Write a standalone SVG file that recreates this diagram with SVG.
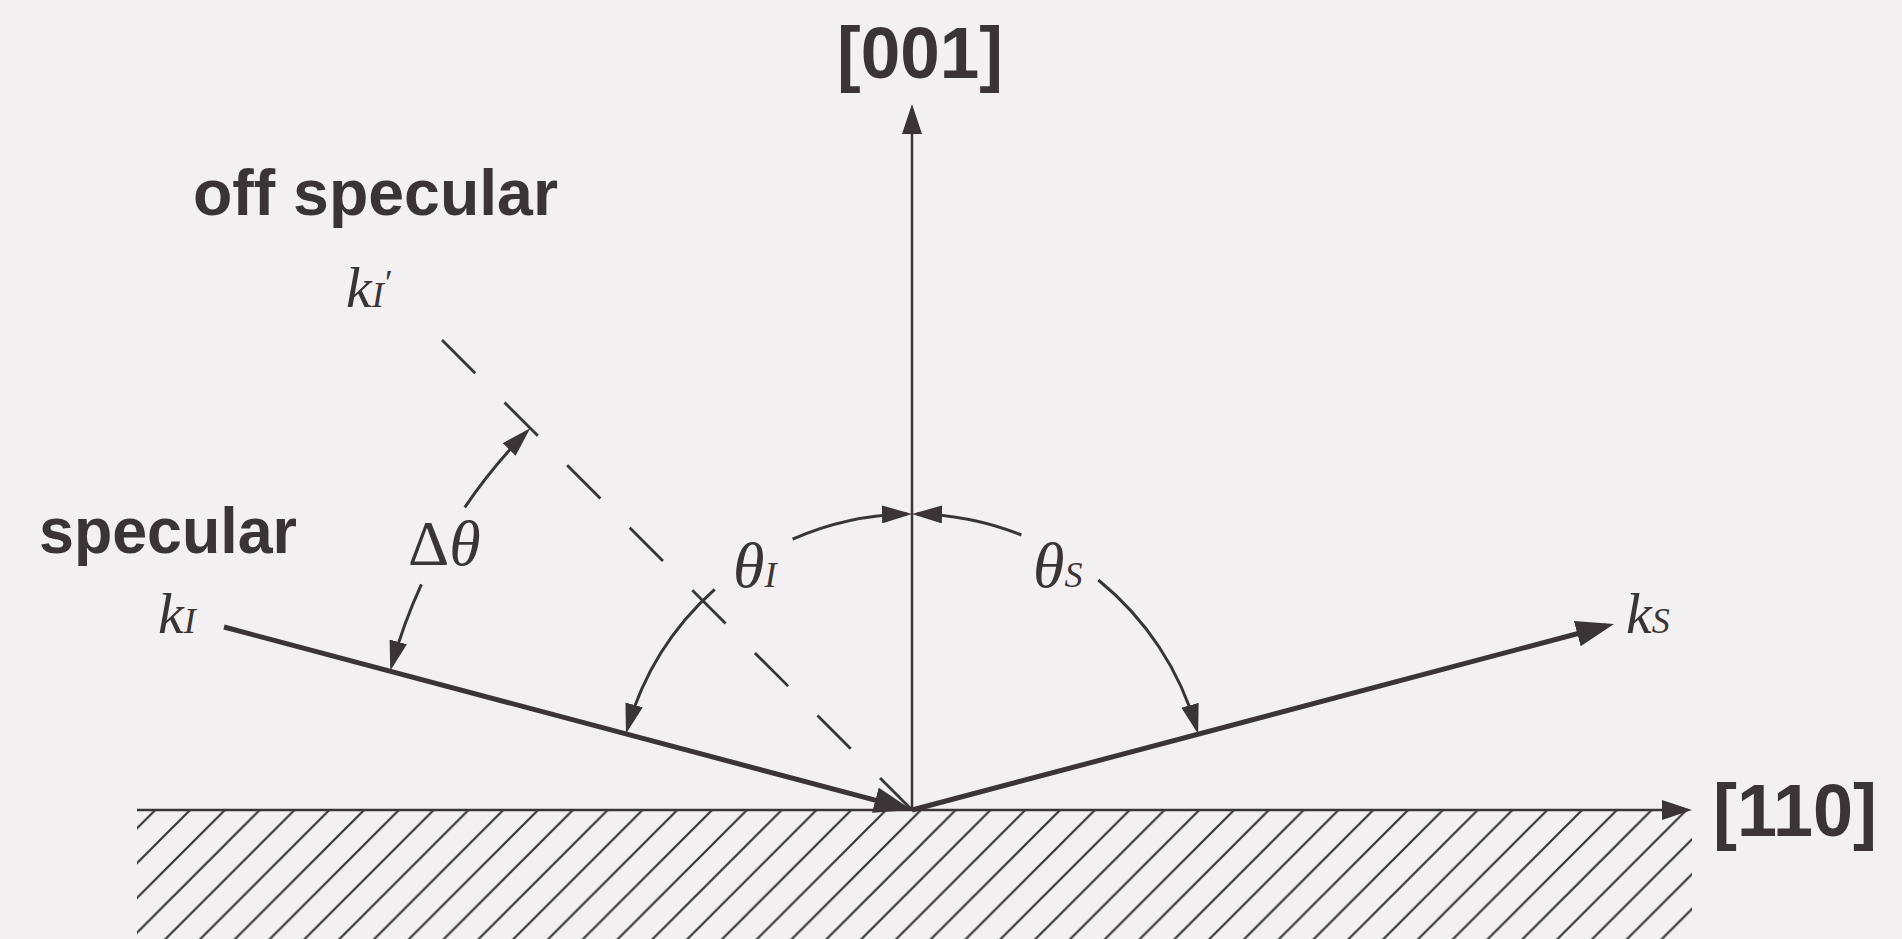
<svg xmlns="http://www.w3.org/2000/svg" width="1902" height="939" viewBox="0 0 1902 939">
<defs>
<style>
.ink{stroke:#3b3436;fill:none}
.axis{stroke-width:2.5}
.vec{stroke-width:5}
.arc{stroke-width:3}
.dash{stroke-width:2.8;stroke-dasharray:47 41.5}
.sans{font-family:"Liberation Sans",Arial,sans-serif;font-weight:bold;fill:#3b3436}
.ital{font-family:"Liberation Serif","Times New Roman",serif;font-style:italic;fill:#3b3436}
.up{font-style:normal}
.sub{font-size:36px}
.head{fill:#3b3436}
</style>
<marker id="aS" markerUnits="userSpaceOnUse" viewBox="0 0 30 18" refX="25" refY="9" markerWidth="30" markerHeight="18" orient="auto"><path class="head" d="M0,0 L30,9 L0,18 z"/></marker>
<marker id="aAx" markerUnits="userSpaceOnUse" viewBox="0 0 30 20" refX="25" refY="10" markerWidth="30" markerHeight="20" orient="auto"><path class="head" d="M0,0 L30,10 L0,20 z"/></marker>
<marker id="aK" markerUnits="userSpaceOnUse" viewBox="0 0 38 26" refX="30" refY="13" markerWidth="38" markerHeight="26" orient="auto"><path class="head" d="M0,0 L38,13 L0,26 z"/></marker>
<pattern id="hatch" patternUnits="userSpaceOnUse" x="0" y="25.7" width="34.8" height="34.8"><path d="M0,34.8 L34.8,0 M-4,4 L4,-4 M30.8,38.8 L38.8,30.8" stroke="#3b3436" stroke-width="2.2"/></pattern>
</defs>
<rect width="1902" height="939" fill="#f2f0f0"/>
<g id="surface">
<rect x="137" y="810" width="1555" height="129" fill="url(#hatch)"/>
</g>
<g id="connectors">
<path id="axis-110" class="ink axis" d="M137,810 L1687,810" marker-end="url(#aAx)"/>
<path id="axis-001" class="ink axis" d="M912,810 L912,109" marker-end="url(#aAx)"/>
<path id="k-offspec" class="ink dash" d="M442,340 L912,810"/>
<path id="k-incident" class="ink vec" d="M224,627 L904.3,807.9" marker-end="url(#aK)"/>
<path id="k-scattered" class="ink vec" d="M912,810 L1606.3,626" marker-end="url(#aK)"/>
<path id="arc-thetaI-low" class="ink arc" d="M714.7,589.3 A296,296 0 0 0 627.3,728.9" marker-end="url(#aS)"/>
<path id="arc-thetaI-up" class="ink arc" d="M792.6,539.2 A296,296 0 0 1 907,514" marker-end="url(#aS)"/>
<path id="arc-thetaS-up" class="ink arc" d="M1021.4,535 A296,296 0 0 0 917,514" marker-end="url(#aS)"/>
<path id="arc-thetaS-low" class="ink arc" d="M1098.3,580 A296,296 0 0 1 1196.8,729.3" marker-end="url(#aS)"/>
<path id="arc-dtheta-up" class="ink arc" d="M464.8,507.3 A540,540 0 0 1 526.7,431.7" marker-end="url(#aS)"/>
<path id="arc-dtheta-low" class="ink arc" d="M421.4,584.4 A540,540 0 0 0 391.6,666" marker-end="url(#aS)"/>
</g>
<g id="label-001"><text class="sans" x="920" y="78" font-size="72" text-anchor="middle" textLength="166" lengthAdjust="spacingAndGlyphs">[001]</text></g>
<g id="label-110"><text class="sans" x="1713" y="836" font-size="74" textLength="164" lengthAdjust="spacingAndGlyphs">[110]</text></g>
<g id="label-offspecular"><text class="sans" x="193" y="215" font-size="64" textLength="365" lengthAdjust="spacingAndGlyphs">off specular</text></g>
<g id="label-specular"><text class="sans" x="39" y="553" font-size="64" textLength="258" lengthAdjust="spacingAndGlyphs">specular</text></g>
<g id="label-kIprime"><text class="ital" x="346" y="307" font-size="58">k<tspan class="sub">I</tspan><tspan font-size="36" dx="-1" dy="-12">′</tspan></text></g>
<g id="label-kI"><text class="ital" x="158" y="633" font-size="58">k<tspan class="sub">I</tspan></text></g>
<g id="label-kS"><text class="ital" x="1626" y="633" font-size="58">k<tspan class="sub">S</tspan></text></g>
<g id="label-thetaI"><text class="ital" x="733" y="587" font-size="64">θ<tspan class="sub">I</tspan></text></g>
<g id="label-thetaS"><text class="ital" x="1033" y="587" font-size="64">θ<tspan class="sub">S</tspan></text></g>
<g id="label-dtheta"><text class="ital" x="408" y="565" font-size="64"><tspan class="up">Δ</tspan>θ</text></g>
</svg>
